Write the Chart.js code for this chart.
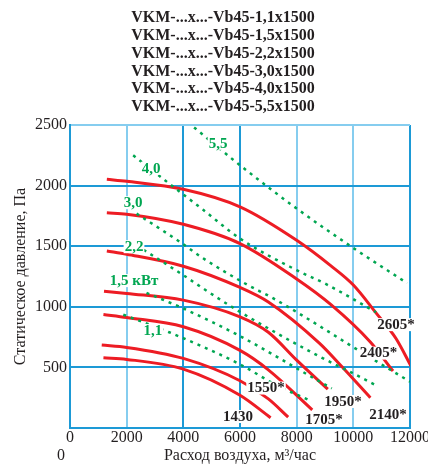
<!DOCTYPE html>
<html>
<head>
<meta charset="utf-8">
<script src="https://cdn.jsdelivr.net/npm/chart.js@4.4.1/dist/chart.umd.min.js"></script>
<style>
  html, body { margin: 0; padding: 0; background: #fff; }
  #chart { display: block; }
</style>
</head>
<body>
<canvas id="chart" width="428" height="464"></canvas>
<script>
// title block (one line per motor)
const titleLines = [
  'VKM-...x...-Vb45-1,1x1500',
  'VKM-...x...-Vb45-1,5x1500',
  'VKM-...x...-Vb45-2,2x1500',
  'VKM-...x...-Vb45-3,0x1500',
  'VKM-...x...-Vb45-4,0x1500',
  'VKM-...x...-Vb45-5,5x1500'
];

const flowTicks = [0, 2000, 4000, 6000, 8000, 10000, 12000];
const pressureTicks = [0, 500, 1000, 1500, 2000, 2500];

// fan curves (red), rpm label + flow m3/h + static pressure Pa
const speedLabels = ['2605*', '2405*', '2140*', '1950*', '1705*', '1550*', '1430'];
const speedFlow = [
  [1300, 2000, 4000, 6000, 8000, 9200, 10000, 10800, 11500, 12050],
  [1300, 2000, 4000, 6000, 8000, 9200, 10600, 11400],
  [1300, 2000, 4000, 6000, 7000, 8800, 9600, 10600],
  [1200, 2000, 4000, 6000, 7000, 8000, 9100],
  [1180, 2000, 4000, 6000, 7000, 8550],
  [1120, 2000, 4000, 6000, 7000, 7700],
  [1180, 2000, 4000, 6000, 7080]
];
const speedPressure = [
  [2052, 2036, 1970, 1825, 1549, 1340, 1180, 950, 740, 505],
  [1775, 1764, 1681, 1522, 1230, 1020, 710, 470],
  [1461, 1434, 1335, 1160, 1040, 700, 505, 250],
  [1129, 1110, 1055, 917, 790, 560, 320],
  [937, 912, 835, 640, 480, 150],
  [684, 665, 574, 390, 240, 90],
  [579, 566, 486, 270, 85]
];
// where the rpm labels sit (flow, pressure)
const speedLabelFlow = [11506, 10888, 11224, 9635, 8965, 6918, 5929];
const speedLabelPressure = [857, 622, 115, 223, 74, 334, 99];

// motor power lines (green dotted), kW
const powerLabels = ['5,5', '4,0', '3,0', '2,2', '1,5 кВт', '1,1'];
const powerFlow = [
  [4380, 6000, 8000, 10000, 11900],
  [2230, 3350, 4700, 6000, 8000, 9000, 10800],
  [2350, 3880, 4700, 6180, 7180, 8940, 9880, 12000],
  [2600, 4000, 4700, 6000, 8820, 10000, 10770],
  [2700, 4000, 6000, 8820, 9240],
  [1880, 3500, 6000, 7350, 8400]
];
const powerPressure = [
  [2480, 2168, 1811, 1485, 1195],
  [2250, 2044, 1800, 1563, 1302, 1192, 955],
  [1769, 1535, 1400, 1192, 1069, 822, 684, 382],
  [1470, 1261, 1151, 958, 588, 450, 355],
  [1115, 986, 758, 382, 327],
  [935, 790, 525, 345, 235]
];
const powerLabelFlow = [5224, 2859, 2224, 2259, 2259, 2929];
const powerLabelPressure = [2353, 2147, 1863, 1500, 1220, 808];

const RED = '#ed1c24';
const GREEN = '#00a651';
const INK = '#231f20';
const SERIF = '"Liberation Serif", "Times New Roman", serif';

const toPoints = (xs, ys) => xs.map((v, i) => ({ x: v, y: ys[i] }));

const powerSets = powerFlow.map((xs, i) => ({
  label: powerLabels[i],
  data: toPoints(xs, powerPressure[i]),
  borderColor: GREEN,
  borderWidth: 2.5,
  borderDash: [3, 5],
  pointRadius: 0,
  cubicInterpolationMode: 'monotone',
  fill: false
}));

const speedSets = speedFlow.map((xs, i) => ({
  label: speedLabels[i],
  data: toPoints(xs, speedPressure[i]),
  borderColor: RED,
  borderWidth: 3,
  pointRadius: 0,
  cubicInterpolationMode: 'monotone',
  fill: false
}));

// light / dark blue grid like the catalogue sheet
const lightFlow = [2000, 8000, 10000];
const gridColorX = c => lightFlow.includes(c.tick && c.tick.value) ? '#86cdef' : '#1d9ad6';
const gridColorY = c => (c.tick && c.tick.value === 2500) ? '#86cdef' : '#1d9ad6';

// texts drawn on top of the plot: power / rpm tags, title, stray zero
const textPlugin = {
  id: 'chartText',
  afterDatasetsDraw(chart) {
    const { ctx, scales: { x, y } } = chart;
    ctx.save();
    ctx.textAlign = 'center';
    ctx.textBaseline = 'middle';
    ctx.font = 'bold 15px ' + SERIF;
    const tag = (text, px, py, color) => {
      const w = ctx.measureText(text).width;
      ctx.fillStyle = '#fff';
      ctx.fillRect(px - w / 2 - 1, py - 6, w + 2, 13);
      ctx.fillStyle = color;
      ctx.fillText(text, px, py + 1);
    };
    powerLabels.forEach((t, i) => {
      tag(t, x.getPixelForValue(powerLabelFlow[i]), y.getPixelForValue(powerLabelPressure[i]), GREEN);
    });
    speedLabels.forEach((t, i) => {
      tag(t, x.getPixelForValue(speedLabelFlow[i]), y.getPixelForValue(speedLabelPressure[i]), INK);
    });
    ctx.restore();
  },
  afterDraw(chart) {
    const { ctx, chartArea } = chart;
    ctx.save();
    ctx.fillStyle = INK;
    ctx.textAlign = 'center';
    ctx.textBaseline = 'middle';
    ctx.font = 'bold 16px ' + SERIF;
    titleLines.forEach((t, i) => ctx.fillText(t, chart.width / 2 + 9, 18 + i * 17.8));
    ctx.font = '16px ' + SERIF;
    ctx.fillText('0', chartArea.left - 9, chartArea.bottom + 28);
    ctx.restore();
  }
};

new Chart(document.getElementById('chart'), {
  type: 'line',
  data: { datasets: [...powerSets, ...speedSets] },
  options: {
    responsive: false,
    animation: false,
    devicePixelRatio: 1,
    layout: { padding: { top: 125, left: 9, right: 0, bottom: 0 } },
    plugins: {
      legend: { display: false },
      tooltip: { enabled: false },
      title: { display: false }
    },
    scales: {
      x: {
        type: 'linear',
        min: 0,
        max: 12000,
        afterBuildTicks: s => { s.ticks = flowTicks.map(v => ({ value: v })); },
        afterFit: s => { s.height = 36; s.paddingRight = 18; },
        ticks: {
          color: INK,
          padding: 2,
          maxRotation: 0,
          font: { family: SERIF, size: 16, lineHeight: 1 },
          callback: v => String(v)
        },
        grid: { color: gridColorX, lineWidth: 2, drawTicks: false },
        border: { color: '#1d9ad6', width: 2 },
        title: {
          display: true,
          text: 'Расход воздуха, м³/час',
          color: INK,
          font: { family: SERIF, size: 16, lineHeight: 1 },
          padding: { top: 0, bottom: 0 }
        }
      },
      y: {
        min: 0,
        max: 2500,
        afterBuildTicks: s => { s.ticks = pressureTicks.map(v => ({ value: v })); },
        afterFit: s => { s.width = 61; },
        ticks: {
          color: INK,
          padding: 3,
          font: { family: SERIF, size: 16 },
          callback: v => (v === 0 ? '' : String(v))
        },
        grid: { color: gridColorY, lineWidth: 2, drawTicks: false },
        border: { color: '#1d9ad6', width: 2 },
        title: {
          display: true,
          text: 'Статическое давление, Па',
          color: INK,
          font: { family: SERIF, size: 16 },
          padding: { top: 2, bottom: 0 }
        }
      }
    }
  },
  plugins: [textPlugin]
});
</script>
</body>
</html>
